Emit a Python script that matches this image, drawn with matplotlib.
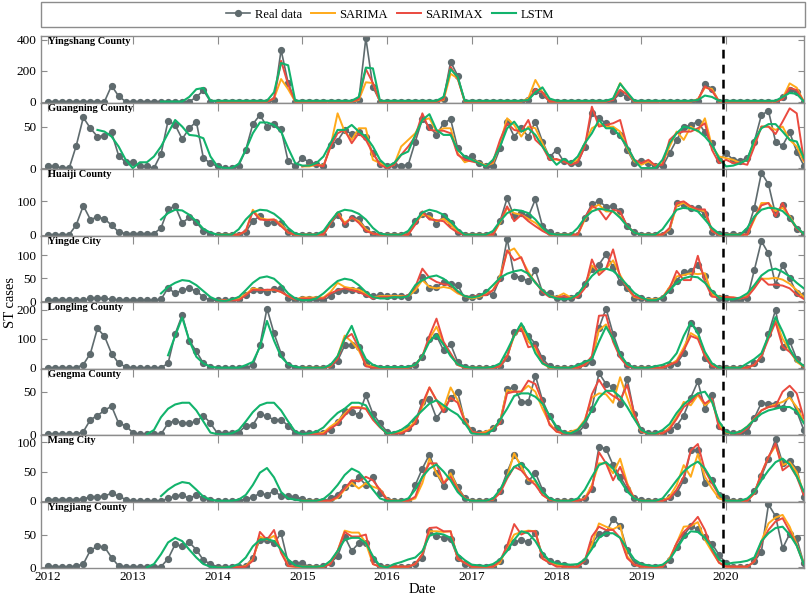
import numpy as np
import matplotlib
matplotlib.use("Agg")
import matplotlib.pyplot as plt
from matplotlib.patches import Rectangle
from matplotlib.lines import Line2D

plt.rcParams['font.family'] = ['Liberation Serif', 'DejaVu Serif']

# monthly time axis, Jan 2012 .. Dec 2020
years = [2012, 2013, 2014, 2015, 2016, 2017, 2018, 2019, 2020]
t = np.array([2012 + i / 12 for i in range(108)])

names = ["Yingshang County", "Guangning County", "Huaiji County", "Yingde City",
         "Longling County", "Gengma County", "Mang City", "Yingjiang County"]
ytick_sets = [[0, 200, 400], [0, 50], [0, 100], [0, 50, 100],
              [0, 100, 200], [0, 50], [0, 50, 100], [0, 50]]
ytops = [425, 79, 195, 143, 227, 77, 112, 100]

# start month index of each model series
sarima_start = [24, 36, 24, 24, 36, 36, 36, 24]
lstm_start = [16, 7, 16, 16, 17, 14, 16, 14]

# ---------------- Yingshang
ys_real = [0,0,0,0,0,0,0,0,0,103,35,0,
           0,0,0,0,0,0,0,0,0,28,73,0,
           0,0,0,0,0,0,0,0,10,335,120,0,
           0,0,0,0,0,0,0,0,10,411,95,0,
           0,0,0,0,0,0,0,0,15,258,168,0,
           0,0,0,0,0,0,0,0,10,67,45,0,
           0,0,0,0,0,0,0,0,5,56,30,0,
           0,0,0,0,0,0,0,0,5,114,82,0,
           0,0,0,0,0,0,0,0,30,77,65,0]
ys_lstm = [0,0,0,0,30,80,88,5,
           5,5,5,5,5,5,5,5,60,250,235,5,
           5,5,5,5,5,5,5,5,30,220,215,5,
           5,5,5,5,5,5,5,5,30,210,160,5,
           5,5,5,5,5,5,5,5,10,60,92,20,
           5,5,5,5,5,5,5,5,20,116,60,5,
           5,5,5,5,5,5,5,5,10,39,30,5,
           5,5,5,5,5,5,5,5,30,56,50,0]
ys_sarima = [0,0,0,0,0,0,0,0,20,146,80,0,
             0,0,0,0,0,0,0,0,10,125,120,0,
             0,0,0,0,0,0,0,0,10,180,150,0,
             0,0,0,0,0,0,0,0,20,140,60,0,
             0,0,0,0,0,0,0,0,15,120,50,0,
             0,0,0,0,0,0,0,0,15,90,82,0,
             0,0,0,0,0,0,0,0,20,118,90,0]
ys_sarimax = [0,0,0,0,0,0,0,0,20,264,110,0,
              0,0,0,0,0,0,0,0,15,210,120,0,
              0,0,0,0,0,0,0,0,15,225,150,0,
              0,0,0,0,0,0,0,0,10,80,60,0,
              0,0,0,0,0,0,0,0,10,77,45,0,
              0,0,0,0,0,0,0,0,10,99,70,0,
              0,0,0,0,0,0,0,0,15,88,75,0]

# ---------------- Guangning
gn_real = [2,2,0,0,27,61,48,38,39,43,15,7,
           7,2,2,0,17,57,52,35,48,56,12,6,
           2,0,0,3,22,53,64,50,53,47,8,3,
           12,7,5,2,28,33,46,41,43,38,18,5,
           2,4,3,4,32,59,50,40,54,59,24,12,
           14,6,2,2,24,56,38,48,38,56,32,13,
           22,8,6,6,26,66,60,54,45,40,22,6,
           8,6,2,2,18,34,49,52,56,43,30,10,
           18,10,9,12,32,64,69,32,27,43,20,3]
gn_lstm = [46,44,38,26,10,
           0,7,7,14,26,42,58,50,40,39,36,14,
           2,0,0,5,22,42,55,55,52,44,24,6,
           3,3,6,14,30,46,46,52,44,38,26,10,
           2,6,16,20,40,58,65,46,40,40,22,14,
           10,6,2,10,26,48,56,44,48,40,26,14,
           4,11,6,14,30,42,58,48,48,38,26,10,
           0,0,0,10,30,42,50,48,45,38,28,12,
           2,3,6,10,34,48,53,53,44,34,32,12]
gn_sarima = [2,2,4,3,26,66,44,34,48,48,10,6,
             2,4,26,34,42,58,60,44,48,48,18,7,
             10,7,3,6,30,60,52,38,50,48,30,12,
             10,8,6,10,30,48,53,50,50,44,24,8,
             4,8,3,6,26,44,34,50,44,60,26,14,
             12,10,6,10,30,50,50,46,50,34,26,8]
gn_sarimax = [2,4,4,2,26,42,46,30,42,34,18,4,
              0,4,16,26,38,66,46,45,45,42,16,10,
              8,6,2,8,34,54,46,44,58,34,26,10,
              11,8,4,7,26,74,50,52,54,58,26,10,
              6,10,3,4,34,42,44,44,48,54,22,6,
              10,6,6,4,26,50,50,41,56,72,66,10]

# ---------------- Huaiji
hj_real = [0,0,0,0,29,86,45,52,47,28,8,3,
           3,3,3,3,20,76,85,35,51,37,11,3,
           0,0,0,0,9,40,56,35,37,35,8,0,
           0,0,0,0,32,58,32,50,47,17,3,0,
           0,0,0,0,40,62,59,32,54,35,8,0,
           0,0,0,0,40,108,54,64,54,105,25,8,
           0,0,0,0,50,91,100,83,85,69,25,8,
           0,0,0,0,11,94,89,80,78,60,8,3,
           0,3,0,12,80,184,150,60,87,50,17,2]
hj_lstm = [45,64,74,72,59,40,17,6,
           0,0,0,16,45,66,74,72,62,45,20,3,
           0,0,0,11,40,66,74,71,62,45,20,3,
           0,0,0,11,40,66,74,69,59,40,16,0,
           0,0,0,11,40,64,74,71,64,45,20,3,
           0,0,0,20,50,69,77,74,69,50,25,6,
           0,0,0,16,45,74,80,76,69,45,20,3,
           0,0,0,20,54,74,80,78,70,50,21,3]
hj_sarima = [0,0,0,0,11,74,49,45,45,30,6,0,
             0,0,0,0,35,66,35,50,40,16,3,0,
             0,0,0,0,35,59,54,40,47,30,8,0,
             0,0,0,0,35,79,64,59,47,35,16,0,
             0,0,0,0,45,79,89,69,69,54,25,6,
             0,0,0,0,16,85,95,80,74,70,11,0,
             0,0,0,0,45,94,94,70,80,55,20,3]
hj_sarimax = [0,0,0,0,11,69,45,43,45,25,6,0,
              0,0,0,0,35,64,30,52,35,11,3,0,
              0,0,0,0,30,69,45,43,40,20,6,0,
              0,0,0,0,40,84,40,59,40,25,11,0,
              0,0,0,0,50,85,74,45,74,69,25,6,
              0,0,0,0,20,94,99,84,75,75,11,0,
              0,0,0,0,50,87,94,55,94,50,17,3]

# ---------------- Yingde
yd_real = [2,2,2,2,2,2,6,7,6,4,2,2,
           2,2,2,2,4,29,17,24,28,22,9,2,
           2,2,2,4,13,24,25,20,27,28,8,2,
           4,4,4,2,11,22,24,25,24,15,11,13,
           11,11,11,9,24,53,29,31,42,38,35,6,
           9,11,20,13,51,136,56,51,44,67,20,17,
           7,8,8,13,38,71,80,102,75,42,28,8,
           6,2,2,6,25,45,63,66,79,54,17,7,
           8,2,2,6,68,131,104,36,79,50,17,14]
yd_lstm = [17,31,40,46,44,35,22,9,
           2,0,4,9,24,40,51,54,49,35,17,6,
           2,2,6,17,31,44,49,46,35,20,9,6,
           6,9,8,11,35,46,53,56,49,37,22,11,
           8,11,20,35,51,60,65,68,60,40,24,11,
           6,4,6,15,35,55,68,71,66,52,35,18,
           8,2,2,8,24,40,50,54,52,40,22,8,
           4,4,8,17,35,56,67,71,64,54,40,28]
yd_sarima = [2,2,2,6,15,28,25,24,25,20,11,4,
             8,8,8,8,20,40,31,28,25,17,8,11,
             11,11,11,11,24,46,31,28,31,28,17,11,
             6,9,15,24,55,107,115,93,64,40,24,11,
             9,17,8,11,31,78,64,71,89,57,30,9,
             6,4,4,8,31,54,57,61,59,61,14,10,
             9,8,6,11,31,49,49,51,47,38,24,9]
yd_sarimax = [2,2,2,2,13,25,24,25,25,20,11,4,
              6,6,6,6,17,24,28,24,20,13,6,9,
              9,9,9,13,31,71,51,42,37,35,20,11,
              9,13,13,24,46,111,89,96,57,42,20,9,
              8,11,6,9,28,91,57,71,113,53,31,11,
              6,2,2,8,28,66,46,46,99,43,10,8,
              9,8,6,9,28,50,36,36,34,28,14,5]

# ---------------- Longling
ll_real = [0,0,0,0,0,11,49,136,109,49,15,3,
           0,0,0,0,0,15,117,182,94,57,15,3,
           0,0,0,0,0,9,77,205,119,49,9,0,
           0,0,0,0,5,24,77,77,72,15,3,0,
           0,0,0,0,9,38,100,111,60,81,20,3,
           0,0,0,0,5,32,122,139,111,83,32,5,
           0,0,0,6,17,20,137,205,117,49,10,0,
           0,0,0,0,10,15,50,155,129,33,5,0,
           0,0,0,0,15,30,118,200,73,92,30,3]
ll_lstm = [43,110,174,94,38,15,3,
           0,0,0,0,9,20,72,162,94,38,12,3,
           0,0,0,0,10,40,100,145,80,30,10,2,
           2,2,2,3,10,40,90,114,80,40,12,3,
           0,0,0,3,15,60,110,154,110,50,15,3,
           0,0,0,9,20,30,90,142,100,45,12,0,
           0,0,5,10,20,50,110,157,120,55,15,0,
           0,0,0,15,30,50,110,175,125,65,25,6]
ll_sarima = [0,0,0,0,5,40,111,90,60,10,2,0,
             0,0,0,0,10,40,100,142,85,45,10,0,
             0,0,0,0,5,40,110,140,90,65,15,0,
             0,0,0,0,10,35,130,150,95,40,8,0,
             0,0,0,0,10,25,70,120,105,45,8,0,
             0,0,0,0,10,40,110,165,100,60,20,3]
ll_sarimax = [0,0,0,0,5,30,100,117,70,5,0,0,
              0,0,0,0,10,40,110,170,90,50,10,0,
              0,0,0,0,5,40,115,135,71,77,20,3,
              0,0,0,0,10,40,180,182,90,35,5,0,
              0,0,0,0,10,20,60,110,100,40,5,0,
              0,0,0,0,10,40,100,158,73,55,27,3]

# ---------------- Gengma
gm_real = [0,0,0,0,0,3,17,22,28,33,13,10,
           2,0,0,0,0,13,16,13,13,15,22,13,
           1,1,1,2,10,11,24,21,17,17,10,1,
           1,1,1,1,5,14,27,26,23,46,24,13,
           3,0,3,7,15,38,41,19,30,42,50,15,
           5,1,2,7,15,53,55,38,38,69,40,21,
           7,1,1,1,11,30,72,59,55,36,65,24,
           5,1,1,1,5,10,22,43,62,30,46,10,
           3,1,1,3,19,37,36,36,31,47,27,5]
gm_lstm = [0,5,20,30,35,37,37,28,15,2,
           0,0,1,5,15,26,34,37,37,28,15,3,
           0,1,3,8,17,25,30,37,37,34,20,9,
           1,2,5,11,20,28,36,40,34,28,23,13,
           1,0,0,5,17,30,45,48,48,44,36,22,
           9,2,1,5,15,28,43,51,51,44,32,18,
           5,1,1,5,12,25,35,42,48,50,38,15,
           3,1,3,9,17,24,28,30,32,32,27,13]
gm_sarima = [0,0,0,2,9,15,24,32,32,30,18,9,
             1,1,3,7,15,32,55,40,30,55,40,17,
             3,1,3,7,15,52,50,50,57,50,30,13,
             3,1,3,6,17,43,48,47,37,67,43,20,
             3,1,1,1,8,20,38,34,46,34,40,11,
             2,1,3,9,18,28,32,35,38,43,32,15]
gm_sarimax = [0,0,0,0,7,12,22,31,31,30,17,8,
              1,1,1,5,13,36,55,40,26,43,37,15,
              3,1,1,6,13,48,50,50,63,59,38,11,
              3,1,1,5,15,47,64,51,45,40,58,24,
              3,1,1,1,6,18,32,38,48,36,42,7,
              3,1,1,7,18,28,32,33,50,57,48,19]

# ---------------- Mang
mc_real = [2,2,2,2,2,3,7,7,8,13,8,2,
           0,0,0,0,0,4,8,10,4,10,4,1,
           0,0,0,0,3,6,13,10,17,8,8,7,
           3,0,0,0,4,10,24,30,40,27,40,14,
           2,0,0,0,27,55,79,47,25,49,24,5,
           0,0,0,2,16,49,78,61,33,48,19,2,
           0,0,0,0,4,21,92,89,61,41,21,4,
           1,0,0,0,7,13,35,86,86,30,35,10,
           4,0,0,0,16,42,72,105,64,68,55,6]
mc_lstm = [8,19,27,32,30,19,7,2,
           0,0,0,2,10,27,48,56,40,15,4,2,
           0,0,0,3,13,27,44,55,49,35,19,4,
           0,0,0,4,19,41,55,62,50,35,15,3,
           0,0,0,4,19,41,58,64,52,35,15,4,
           0,0,0,4,19,41,61,66,55,35,16,4,
           0,0,0,4,19,35,50,60,67,55,35,12,
           0,0,0,4,15,35,52,66,72,62,42,16]
mc_sarima = [0,0,0,0,0,5,19,31,21,30,24,20,
             3,0,0,0,4,30,72,47,30,47,21,4,
             0,0,0,2,16,41,81,58,35,33,10,2,
             0,0,0,0,4,27,64,64,47,72,30,4,
             0,0,0,0,7,27,61,41,80,41,21,4,
             0,0,0,0,13,47,75,94,61,66,49,13]
mc_sarimax = [0,0,0,0,0,7,21,35,33,41,35,19,
              2,0,0,0,7,41,64,64,30,41,19,4,
              0,0,0,2,13,38,58,52,38,27,10,2,
              0,0,0,0,3,21,83,64,35,58,27,4,
              0,0,0,0,4,19,41,86,97,52,30,10,
              0,0,0,0,13,47,75,98,52,61,41,10]

# ---------------- Yingjiang
yj_real = [2,1,1,1,2,5,26,32,31,15,2,1,
           1,1,1,1,1,13,35,32,38,27,11,5,
           1,1,1,1,2,15,42,41,37,52,7,7,
           6,1,0,2,7,17,47,25,37,37,12,2,
           1,1,1,1,5,15,55,48,45,43,15,5,
           1,1,0,0,9,31,39,41,39,52,19,9,
           6,4,1,1,9,36,51,53,74,63,26,6,
           4,1,1,1,11,31,49,63,58,46,36,19,
           6,0,0,0,9,24,96,78,29,51,44,6]
yj_lstm = [0,5,20,38,45,40,27,15,5,1,
           0,0,1,5,15,32,42,43,40,27,12,3,
           1,1,1,2,10,25,42,45,45,37,17,2,
           0,5,8,12,15,25,48,52,50,45,20,11,
           4,3,2,5,12,25,42,55,52,40,22,10,
           6,5,4,5,12,28,45,52,52,45,28,12,
           5,3,2,4,12,28,45,55,54,45,30,12,
           5,7,8,10,15,40,52,60,62,50,33,5]
yj_sarima = [0,0,0,0,2,12,47,42,48,27,2,1,
             1,1,1,1,7,25,56,53,53,37,5,1,
             1,1,1,1,5,20,55,55,54,55,13,7,
             1,1,1,1,7,31,50,54,56,55,14,7,
             4,1,1,1,12,35,67,62,58,64,17,4,
             1,1,1,1,14,37,62,63,69,42,24,7,
             1,1,1,1,9,40,67,76,80,62,35,6]
yj_sarimax = [0,0,0,0,1,10,54,42,57,22,2,1,
              1,1,1,1,5,25,54,47,47,50,5,1,
              1,1,1,1,5,20,60,61,55,55,13,7,
              1,1,1,1,10,33,66,50,55,55,13,7,
              1,1,1,1,10,47,62,57,57,45,14,4,
              1,1,1,1,12,37,54,64,77,57,26,7,
              1,1,1,1,9,37,57,70,75,55,33,5]

real_all = [ys_real, gn_real, hj_real, yd_real, ll_real, gm_real, mc_real, yj_real]
sarima_all = [ys_sarima, gn_sarima, hj_sarima, yd_sarima, ll_sarima, gm_sarima, mc_sarima, yj_sarima]
sarimax_all = [ys_sarimax, gn_sarimax, hj_sarimax, yd_sarimax, ll_sarimax, gm_sarimax, mc_sarimax, yj_sarimax]
lstm_all = [ys_lstm, gn_lstm, hj_lstm, yd_lstm, ll_lstm, gm_lstm, mc_lstm, yj_lstm]

c_real = "#5f6b6e"
c_sarima = "#ffaa1a"
c_sarimax = "#ea4a3f"
c_lstm = "#12b36c"
c_frame = "#8c8c8c"

W, H = 809, 602
fig = plt.figure(figsize=(W / 100, H / 100), dpi=100)

left, right = 40.7, 804.5
top0, ph = 36.0, 66.54

axes = []
for k in range(8):
    y_top = top0 + k * ph
    ax = fig.add_axes([left / W, 1 - (y_top + ph) / H, (right - left) / W, ph / H])
    axes.append(ax)

    real = real_all[k]
    ax.plot(t[:len(real)], real, color=c_real, lw=1.2, marker="o", ms=4.2,
            zorder=2)
    s0 = sarima_start[k]
    sa = sarima_all[k]
    ax.plot(t[s0:s0 + len(sa)], sa, color=c_sarima, lw=1.4, zorder=3)
    sx = sarimax_all[k]
    ax.plot(t[s0:s0 + len(sx)], sx, color=c_sarimax, lw=1.4, zorder=4)
    l0 = lstm_start[k]
    ls = lstm_all[k]
    ax.plot(t[l0:l0 + len(ls)], ls, color=c_lstm, lw=1.5, zorder=5)

    ax.axvline(2019.96, color="black", lw=1.8, ls=(0, (3.5, 2.5)), zorder=6)

    ax.set_xlim(2011.914, 2020.925)
    ax.set_ylim(-0.015 * ytops[k], ytops[k])
    ax.set_yticks(ytick_sets[k])
    ax.set_xticks(years)
    ax.tick_params(axis="y", direction="in", left=True, right=True, length=4,
                   color=c_frame, labelsize=9.5, pad=3)
    ax.tick_params(axis="x", direction="in", top=True, bottom=False, length=6,
                   color=c_frame, labelsize=9.5, labelbottom=(k == 7))
    for sp in ax.spines.values():
        sp.set_color(c_frame)
        sp.set_linewidth(1.0)
    ax.text(0.009, 0.985, names[k], transform=ax.transAxes, fontsize=7.5,
            fontweight="bold", va="top", ha="left", zorder=7)

axes[7].set_xticklabels([str(y) for y in years])
axes[7].tick_params(axis="x", pad=2)
axes[7].set_xlabel("Date", fontsize=10.5, labelpad=0)
fig.text(11 / W, 1 - 302 / H, "ST cases", rotation=90, fontsize=10.5,
         ha="center", va="center")

# legend box across the top
fig.patches.append(Rectangle((41 / W, 1 - 27 / H), 764 / W, 25 / H,
                             transform=fig.transFigure, fill=False,
                             edgecolor=c_frame, lw=1.0))
handles = [Line2D([], [], color=c_real, lw=1.2, marker="o", ms=4.2),
           Line2D([], [], color=c_sarima, lw=1.4),
           Line2D([], [], color=c_sarimax, lw=1.4),
           Line2D([], [], color=c_lstm, lw=1.5)]
fig.legend(handles, ["Real data", "SARIMA", "SARIMAX", "LSTM"], ncol=4,
           loc="center", bbox_to_anchor=(390 / W, 1 - 14.5 / H), frameon=False,
           fontsize=9, handlelength=1.9, columnspacing=0.7, handletextpad=0.4)

fig.savefig("out.png", dpi=100)
